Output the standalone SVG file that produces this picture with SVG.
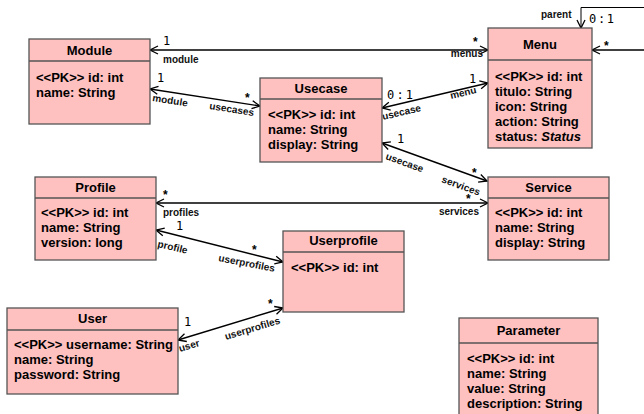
<svg xmlns="http://www.w3.org/2000/svg" width="644" height="414" viewBox="0 0 644 414">
<defs>
<marker id="arr" markerUnits="userSpaceOnUse" markerWidth="12" markerHeight="12" refX="9" refY="5" orient="auto-start-reverse">
<path d="M1,1 L9,5 L1,9" fill="none" stroke="#000" stroke-width="1.3"/>
</marker>
<style>
.box{fill:#ffc0c0;stroke:#555;stroke-width:1.3}
.sep{stroke:#555;stroke-width:1.3}
.hd{font-family:"Liberation Sans",Arial,sans-serif;font-weight:bold;font-size:13px;fill:#000;text-anchor:middle}
.at{font-family:"Liberation Sans",Arial,sans-serif;font-weight:bold;font-size:13px;fill:#000}
.it{font-style:italic}
.ln{fill:none;stroke:#000;stroke-width:1.4;marker-start:url(#arr);marker-end:url(#arr)}
.ln1{fill:none;stroke:#000;stroke-width:1.4;marker-end:url(#arr)}
.rl{font-family:"Liberation Sans",Arial,sans-serif;font-weight:bold;font-size:10px;fill:#111}
.mu{font-family:"DejaVu Sans Mono",monospace;font-size:12px;fill:#000}
.st{font-family:"Liberation Sans",Arial,sans-serif;font-weight:bold;font-size:12px;fill:#000}
</style>
</defs>
<rect width="644" height="414" fill="#fff"/>

<g id="connectors">
<path class="ln" d="M150,50 L488,50"/>
<path class="ln" d="M150,89 L260,106"/>
<path class="ln" d="M382,108 L488,83"/>
<path class="ln" d="M382,143 L487,181"/>
<path class="ln" d="M156,203 L488,203"/>
<path class="ln" d="M156,230 L283,262"/>
<path class="ln" d="M178,340 L283,308"/>
<path class="ln1" d="M644,50 L592,50"/>
<path class="ln1" d="M644,7.5 L581,7.5 L581,28" style="stroke-width:1"/>

<text class="mu" x="163" y="45">1</text>
<text class="rl" x="163" y="63">module</text>
<text class="st" x="473" y="46">*</text>
<text class="rl" x="483" y="57" text-anchor="end">menus</text>

<text class="mu" x="157" y="82">1</text>
<text class="rl" transform="rotate(9 152 101)" x="152" y="101">module</text>
<text class="st" x="245" y="102">*</text>
<text class="rl" transform="rotate(9 209 109)" x="209" y="109">usecases</text>

<text class="mu" x="387" y="99" textLength="26">0 : 1</text>
<text class="rl" transform="rotate(-13 383 120)" x="383" y="120">usecase</text>
<text class="mu" x="469" y="83">1</text>
<text class="rl" transform="rotate(-13 451 99)" x="451" y="99">menu</text>

<text class="mu" x="397" y="143">1</text>
<text class="rl" transform="rotate(20 385 159)" x="385" y="159">usecase</text>
<text class="st" x="472" y="177">*</text>
<text class="rl" transform="rotate(20 441 182)" x="441" y="182">services</text>

<text class="st" x="163" y="199">*</text>
<text class="rl" x="163" y="216">profiles</text>
<text class="st" x="466" y="203">*</text>
<text class="rl" x="479" y="215" text-anchor="end">services</text>

<text class="mu" x="176" y="230">1</text>
<text class="rl" transform="rotate(13 157 247)" x="157" y="247">profile</text>
<text class="st" x="252" y="254">*</text>
<text class="rl" transform="rotate(11 218 261)" x="218" y="261">userprofiles</text>

<text class="mu" x="184" y="326">1</text>
<text class="rl" transform="rotate(-17 180 352)" x="180" y="352">user</text>
<text class="st" x="268" y="308">*</text>
<text class="rl" transform="rotate(-17 226 340)" x="226" y="340">userprofiles</text>

<text class="rl" x="541" y="18">parent</text>
<text class="mu" x="589" y="23" textLength="25">0 : 1</text>
<text class="st" x="604" y="50">*</text>
</g>

<g id="Module">
<rect class="box" x="29" y="39" width="121" height="85"/>
<line class="sep" x1="29" y1="61" x2="150" y2="61"/>
<text class="hd" x="89.5" y="55">Module</text>
<text class="at" x="36" y="82">&lt;&lt;PK&gt;&gt; id: int</text>
<text class="at" x="36" y="97">name: String</text>
</g>

<g id="Usecase">
<rect class="box" x="260" y="78" width="122" height="84"/>
<line class="sep" x1="260" y1="99" x2="382" y2="99"/>
<text class="hd" x="321" y="93">Usecase</text>
<text class="at" x="268" y="119">&lt;&lt;PK&gt;&gt; id: int</text>
<text class="at" x="268" y="134">name: String</text>
<text class="at" x="268" y="149">display: String</text>
</g>

<g id="Menu">
<rect class="box" x="488" y="28" width="104" height="120"/>
<line class="sep" x1="488" y1="60" x2="592" y2="60"/>
<text class="hd" x="540" y="49">Menu</text>
<text class="at" x="495" y="81">&lt;&lt;PK&gt;&gt; id: int</text>
<text class="at" x="495" y="96">titulo: String</text>
<text class="at" x="495" y="111">icon: String</text>
<text class="at" x="495" y="126">action: String</text>
<text class="at" x="495" y="141">status: <tspan class="it">Status</tspan></text>
</g>

<g id="Profile">
<rect class="box" x="35" y="177" width="121" height="83"/>
<line class="sep" x1="35" y1="198" x2="156" y2="198"/>
<text class="hd" x="95.5" y="192">Profile</text>
<text class="at" x="41" y="217">&lt;&lt;PK&gt;&gt; id: int</text>
<text class="at" x="41" y="232">name: String</text>
<text class="at" x="41" y="247">version: long</text>
</g>

<g id="Service">
<rect class="box" x="488" y="177" width="121" height="83"/>
<line class="sep" x1="488" y1="198" x2="609" y2="198"/>
<text class="hd" x="548.5" y="192">Service</text>
<text class="at" x="495" y="217">&lt;&lt;PK&gt;&gt; id: int</text>
<text class="at" x="495" y="232">name: String</text>
<text class="at" x="495" y="247">display: String</text>
</g>

<g id="Userprofile">
<rect class="box" x="283" y="231" width="121" height="81"/>
<line class="sep" x1="283" y1="252" x2="404" y2="252"/>
<text class="hd" x="343.5" y="245">Userprofile</text>
<text class="at" x="291" y="272">&lt;&lt;PK&gt;&gt; id: int</text>
</g>

<g id="User">
<rect class="box" x="7" y="308" width="171" height="86"/>
<line class="sep" x1="7" y1="330" x2="178" y2="330"/>
<text class="hd" x="92.5" y="323">User</text>
<text class="at" x="14" y="349">&lt;&lt;PK&gt;&gt; username: String</text>
<text class="at" x="14" y="364">name: String</text>
<text class="at" x="14" y="379">password: String</text>
</g>

<g id="Parameter">
<rect class="box" x="459" y="318" width="139" height="110"/>
<line class="sep" x1="459" y1="343" x2="598" y2="343"/>
<text class="hd" x="528.5" y="335">Parameter</text>
<text class="at" x="467" y="363">&lt;&lt;PK&gt;&gt; id: int</text>
<text class="at" x="467" y="378">name: String</text>
<text class="at" x="467" y="393">value: String</text>
<text class="at" x="467" y="408">description: String</text>
</g>
</svg>
